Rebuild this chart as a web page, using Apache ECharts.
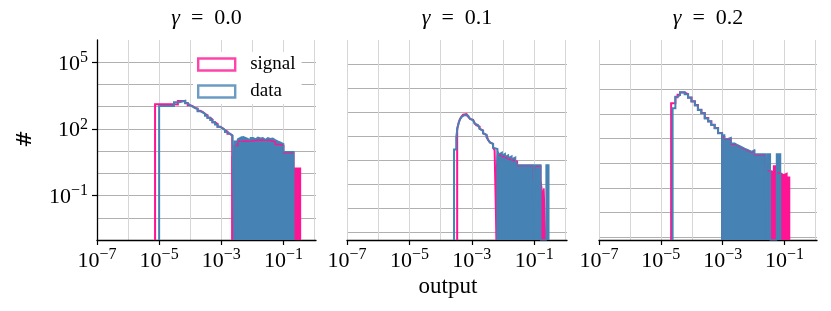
<!DOCTYPE html>
<html><head><meta charset="utf-8">
<script src="https://cdn.jsdelivr.net/npm/echarts@6/dist/echarts.min.js"></script>
<style>html,body{margin:0;padding:0;background:#fff}#c{width:831px;height:311px}</style>
</head><body><div id="c"></div>
<script>
// ---------- data ----------
const gammaTitles = ['0.0', '0.1', '0.2'];
const xTickValues = [1e-7, 1e-5, 1e-3, 1e-1];
const yTickValues = [1e-1, 1e2, 1e5];
const xGridValues = [1e-7, 1e-6, 1e-5, 1e-4, 1e-3, 1e-2, 1e-1, 1e0];
const yGridValues = [1e-2, 1e-1, 1e0, 1e1, 1e2, 1e3, 1e4, 1e5];
const xMin = 1e-7, xMax = 1.12;
const yMins = [1e-3, 4.79e-3, 7.76e-3];
const yMax = 1e6;

// gamma = 0.0
const sig0CurveX = [7.4e-6, 3.0e-5, 4.0e-5, 6.9e-5, 8.3e-5, 1.0e-4, 1.2e-4, 1.45e-4, 1.74e-4, 2.1e-4, 2.5e-4, 3.0e-4, 3.6e-4, 4.4e-4, 5.2e-4, 6.3e-4, 7.6e-4, 9.1e-4, 1.1e-3, 1.32e-3, 1.58e-3, 1.9e-3, 2.25e-3];
const sig0CurveY = [1290, 1260, 1820, 1450, 1150, 1050, 870, 820, 650, 580, 480, 410, 320, 265, 200, 165, 126, 108, 89, 76, 60, 52];
const dat0CurveX = [1.0e-5, 3.0e-5, 4.5e-5, 6.9e-5, 8.3e-5, 1.0e-4, 1.2e-4, 1.45e-4, 1.74e-4, 2.1e-4, 2.5e-4, 3.0e-4, 3.6e-4, 4.4e-4, 5.2e-4, 6.3e-4, 7.6e-4, 9.1e-4, 1.1e-3, 1.32e-3, 1.58e-3, 1.9e-3, 2.3e-3, 2.6e-3];
const dat0CurveY = [1070, 1580, 1820, 1410, 1150, 1000, 870, 780, 630, 550, 480, 390, 316, 251, 200, 158, 126, 105, 89, 72, 60, 50, 42];
const sig0DenseX = [2.25e-3, 2.4e-3, 2.6e-3, 3.4e-3, 5.0e-3, 7.6e-3, 1.26e-2, 2.2e-2, 3.8e-2, 5.5e-2, 7.9e-2, 0.102, 0.216, 0.27, 0.28, 0.353];
const sig0DenseY = [6, 0, 18, 28, 28, 30, 32, 30, 26, 20, 18, 8.5, 1.7, 0, 1.7];
const dat0DenseX = [2.6e-3, 3.02e-3, 3.39e-3, 3.80e-3, 4.37e-3, 5.01e-3, 5.75e-3, 6.61e-3, 7.59e-3, 8.71e-3, 1.05e-2, 1.26e-2, 1.51e-2, 1.82e-2, 2.19e-2, 2.63e-2, 3.16e-2, 3.80e-2, 4.57e-2, 5.50e-2, 6.61e-2, 7.94e-2, 0.102, 0.216];
const dat0DenseY = [28, 20, 35, 42, 32, 45, 38, 42, 32, 40, 35, 42, 38, 40, 33, 40, 36, 38, 32, 28, 25, 21, 9.3];

// gamma = 0.1
const sig1CurveX = [3.39e-4, 3.80e-4, 4.17e-4, 4.68e-4, 5.25e-4, 5.89e-4, 6.76e-4, 7.59e-4, 8.71e-4, 9.77e-4, 1.10e-3, 1.23e-3, 1.38e-3, 1.58e-3, 1.78e-3, 2.04e-3, 2.29e-3, 2.57e-3, 2.95e-3, 3.31e-3, 3.80e-3, 4.27e-3, 4.79e-3, 5.37e-3, 6.17e-3];
const sig1CurveY = [200, 370, 520, 650, 790, 830, 710, 640, 525, 480, 400, 350, 288, 250, 200, 175, 132, 112, 95, 71, 55, 48, 33, 26];
const dat1CurveX = [2.69e-4, 3.16e-4, 3.47e-4, 3.80e-4, 4.17e-4, 4.68e-4, 5.25e-4, 5.89e-4, 6.76e-4, 7.59e-4, 8.71e-4, 9.77e-4, 1.10e-3, 1.23e-3, 1.38e-3, 1.58e-3, 1.78e-3, 2.04e-3, 2.29e-3, 2.57e-3, 2.95e-3, 3.31e-3, 3.80e-3, 4.27e-3, 4.79e-3, 5.37e-3, 6.61e-3];
const dat1CurveY = [28, 89, 224, 355, 500, 630, 760, 810, 710, 600, 525, 457, 400, 330, 288, 240, 200, 166, 132, 112, 89, 71, 55, 48, 33, 29];
const sig1DenseX = [6.17e-3, 6.61e-3, 8.32e-3, 1.05e-2, 1.32e-2, 1.66e-2, 2.19e-2, 2.88e-2, 9.4e-2, 0.106, 0.162, 0.174, 0.191, 0.204, 0.229];
const sig1DenseY = [4.6, 16, 14, 12.5, 11, 10, 9, 6.0, 1.5, 5.8, 1.5, 0.68, 0.3, 0.68];
const dat1DenseX = [6.61e-3, 7.41e-3, 8.32e-3, 9.33e-3, 1.05e-2, 1.17e-2, 1.32e-2, 1.48e-2, 1.66e-2, 1.91e-2, 2.19e-2, 2.51e-2, 2.88e-2, 9.4e-2, 0.106, 0.162, 0.240, 0.292];
const dat1DenseY = [24, 17.8, 21.4, 15.8, 19, 14.1, 16.6, 12.6, 15.1, 11.2, 13.2, 10, 6.3, 0, 6.3, 0, 6.3];

// gamma = 0.2
const sig2CurveX = [2.15e-5, 2.95e-5, 3.47e-5, 4.17e-5, 5.89e-5, 7.59e-5, 9.77e-5, 1.26e-4, 1.58e-4, 2.04e-4, 2.63e-4, 3.39e-4, 4.27e-4, 5.50e-4, 7.08e-4, 9.55e-4];
const sig2CurveY = [2700, 4800, 6000, 7400, 6400, 4700, 3300, 2300, 1500, 1100, 690, 510, 370, 270, 170];
const dat2CurveX = [2.40e-5, 2.95e-5, 3.47e-5, 4.17e-5, 5.89e-5, 7.59e-5, 9.77e-5, 1.26e-4, 1.58e-4, 2.04e-4, 2.63e-4, 3.39e-4, 4.27e-4, 5.50e-4, 7.08e-4, 9.55e-4];
const dat2CurveY = [1700, 5000, 5900, 7600, 6300, 4600, 3200, 2200, 1450, 1070, 660, 490, 355, 263, 166];
const sig2DenseX = [9.55e-4, 1.15e-3, 1.48e-3, 1.86e-3, 2.45e-3, 3.09e-3, 3.98e-3, 5.13e-3, 6.61e-3, 8.51e-3, 1.07e-2, 2.44e-2, 2.75e-2, 3.47e-2, 4.42e-2, 5.37e-2, 7.41e-2, 9.33e-2, 0.119, 0.145];
const sig2DenseY = [120, 95, 100, 60, 52, 44, 38, 33, 28, 32, 22, 6.6, 5, 4.6, 7.8, 4, 3.4, 3.9, 2.7];
const dat2DenseX = [9.55e-4, 1.15e-3, 1.48e-3, 1.86e-3, 2.45e-3, 3.09e-3, 3.98e-3, 5.13e-3, 6.61e-3, 8.51e-3, 1.07e-2, 2.44e-2, 2.75e-2, 3.47e-2, 5.50e-2, 7.41e-2];
const dat2DenseY = [140, 100, 110, 65, 55, 47, 40, 35, 30, 35, 24, 0, 24, 0, 24];

// ---------- styling ----------
const PINK = '#FF1493', BLUE = '#4682B4';
const F = "'Liberation Serif', 'DejaVu Serif', serif";
const grids = [
  {left: 97, top: 40, width: 219, height: 200},
  {left: 347, top: 40, width: 220, height: 200},
  {left: 599, top: 40, width: 218, height: 200}
];
const panels = [
  {sc: [sig0CurveX, sig0CurveY], sd: [sig0DenseX, sig0DenseY], dc: [dat0CurveX, dat0CurveY], dd: [dat0DenseX, dat0DenseY]},
  {sc: [sig1CurveX, sig1CurveY], sd: [sig1DenseX, sig1DenseY], dc: [dat1CurveX, dat1CurveY], dd: [dat1DenseX, dat1DenseY]},
  {sc: [sig2CurveX, sig2CurveY], sd: [sig2DenseX, sig2DenseY], dc: [dat2CurveX, dat2CurveY], dd: [dat2DenseX, dat2DenseY]}
];

// histogram step outline: edges + heights -> polyline (empty bins drop to axis floor)
function stepPoints(edges, heights, floor) {
  const pts = [[edges[0], floor]];
  for (let i = 0; i < heights.length; i++) {
    const h = heights[i] > 0 ? heights[i] : floor;
    pts.push([edges[i], h]);
    pts.push([edges[i + 1], h]);
  }
  pts.push([edges[edges.length - 1], floor]);
  return pts;
}

const rich = {
  b: {fontSize: 22, fontFamily: F, color: '#000', lineHeight: 25, verticalAlign: 'bottom'},
  s: {fontSize: 16, fontFamily: F, color: '#000', lineHeight: 16, verticalAlign: 'top'}
};
function powLabel(v) {
  const e = Math.round(Math.log10(v));
  return '{b|10}{s|' + (e < 0 ? '\u2212' + (-e) : e) + '}';
}

const xAxis = [], yAxis = [], series = [];
panels.forEach((p, i) => {
  const floor = yMins[i];
  // grid axes (decade grid lines)
  xAxis.push({
    gridIndex: i, type: 'log', logBase: 10, min: xMin, max: xMax, position: 'bottom',
    axisLine: {show: true, lineStyle: {color: '#000', width: 1.3}},
    axisTick: {show: false, customValues: xGridValues},
    axisLabel: {show: false, customValues: xGridValues},
    splitLine: {show: true, showMinLine: true, showMaxLine: true, lineStyle: {color: '#d6d6d6', width: 1}}
  });
  // tick/label axes
  xAxis.push({
    gridIndex: i, type: 'log', logBase: 10, min: xMin, max: xMax, position: 'bottom',
    axisLine: {show: false},
    axisTick: {show: true, customValues: xTickValues, length: 5, lineStyle: {color: '#000', width: 1.2}},
    axisLabel: {show: true, customValues: xTickValues, formatter: powLabel, rich: rich, margin: 7},
    splitLine: {show: false}
  });
  yAxis.push({
    gridIndex: i, type: 'log', logBase: 10, min: floor, max: yMax, position: 'left',
    axisLine: {show: i === 0, lineStyle: {color: '#000', width: 1.3}},
    axisTick: {show: false, customValues: yGridValues},
    axisLabel: {show: false, customValues: yGridValues},
    splitLine: {show: true, showMinLine: true, showMaxLine: true, lineStyle: {color: '#b0b0b0', width: 1}}
  });
  yAxis.push({
    gridIndex: i, type: 'log', logBase: 10, min: floor, max: yMax, position: 'left', offset: 0,
    axisLine: {show: false},
    axisTick: {show: i === 0, customValues: yTickValues, length: 5, lineStyle: {color: '#000', width: 1.2}},
    axisLabel: {show: i === 0, customValues: yTickValues, formatter: powLabel, rich: rich, margin: 9},
    splitLine: {show: false}
  });
  const mk = (name, xy, color, fill) => ({
    name: name, type: 'line', xAxisIndex: 2 * i, yAxisIndex: 2 * i,
    data: stepPoints(xy[0], xy[1], floor),
    symbol: 'none', showSymbol: false, silent: true, animation: false, clip: true,
    lineStyle: {color: color, width: fill ? 1.5 : 2, join: 'miter'},
    itemStyle: {color: color},
    areaStyle: fill ? {color: color, opacity: 1, origin: 'start'} : undefined
  });
  series.push(mk('signal_' + i, p.sc, PINK, false));
  series.push(mk('signal_d' + i, p.sd, PINK, true));
  series.push(mk('data_' + i, p.dc, BLUE, false));
  series.push(mk('data_d' + i, p.dd, BLUE, true));
});
// legend entries
series.push({name: 'signal', type: 'scatter', xAxisIndex: 0, yAxisIndex: 0, data: [], itemStyle: {color: PINK}});
series.push({name: 'data', type: 'scatter', xAxisIndex: 0, yAxisIndex: 0, data: [], itemStyle: {color: BLUE}});

const graphic = [];
gammaTitles.forEach((t, i) => {
  graphic.push({
    type: 'text', x: grids[i].left + grids[i].width / 2, y: 18,
    style: {
      text: '{g|\u03b3}\u2002=\u2002' + t, textAlign: 'center', textVerticalAlign: 'middle',
      font: '22px ' + F, fill: '#000',
      rich: {g: {fontStyle: 'italic', fontSize: 22, fontFamily: F, fill: '#000'}}
    }
  });
});
graphic.push({type: 'text', x: 26, y: 139, rotation: Math.PI / 2,
  style: {text: '#', textAlign: 'center', textVerticalAlign: 'middle', font: "21px 'DejaVu Serif', serif", fill: '#000'}});
graphic.push({type: 'text', x: 448, y: 287,
  style: {text: 'output', textAlign: 'center', textVerticalAlign: 'middle', font: '23px ' + F, fill: '#000'}});

const chart = echarts.init(document.getElementById('c'), null, {renderer: 'canvas', width: 831, height: 311});
chart.setOption({
  animation: false,
  backgroundColor: '#fff',
  grid: grids.map(g => Object.assign({containLabel: false}, g)),
  xAxis: xAxis, yAxis: yAxis, series: series, graphic: graphic,
  legend: {
    orient: 'vertical', left: 193, top: 52, padding: [3, 6, 3, 4], backgroundColor: '#fff',
    itemWidth: 37, itemHeight: 12, itemGap: 8,
    textStyle: {fontFamily: F, fontSize: 19, color: '#000', padding: [0, 0, 0, 10]},
    selectedMode: false,
    data: [
      {name: 'signal', icon: 'rect', itemStyle: {color: '#fff', borderColor: PINK, borderWidth: 2.4}},
      {name: 'data', icon: 'rect', itemStyle: {color: '#fff', borderColor: BLUE, borderWidth: 2.4}}
    ]
  }
});
</script></body></html>
